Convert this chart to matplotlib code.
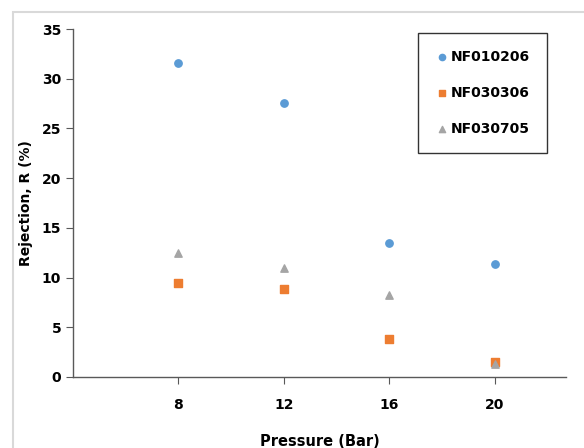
import matplotlib.pyplot as plt
from matplotlib.patches import Rectangle

pressure = [8, 12, 16, 20]
nf010206 = [31.6, 27.6, 13.5, 11.4]
nf030306 = [9.5, 8.9, 3.8, 1.5]
nf030705 = [12.5, 11.0, 8.2, 1.3]

plt.rcParams['font.family'] = ['DejaVu Sans']
plt.rcParams['font.weight'] = 'bold'

fig = plt.figure(figsize=(5.84, 4.48), dpi=100)
# grey chart-area frame (cut off at right and bottom)
fig.patches.append(Rectangle((13 / 584, -0.1), 1.2, 1 - 12 / 448 + 0.1,
                             transform=fig.transFigure, fill=False,
                             edgecolor='#d9d9d9', linewidth=1.5))

ax = fig.add_axes([73 / 584, 1 - 377 / 448, (566 - 73) / 584, (377 - 29) / 448])

ax.scatter(pressure, nf010206, marker='o', s=28, color='#5b9bd5', label='NF010206', zorder=3)
ax.scatter(pressure, nf030306, marker='s', s=28, color='#ed7d31', label='NF030306', zorder=3)
ax.scatter(pressure, nf030705, marker='^', s=28, color='#a5a5a5', label='NF030705', zorder=3)

ax.set_xlim(4, 22.7)
ax.set_ylim(0, 35)
ax.set_xticks(pressure)
ax.set_yticks(range(0, 36, 5))
for s in ['top', 'right']:
    ax.spines[s].set_visible(False)
for s in ['left', 'bottom']:
    ax.spines[s].set_color('#595959')
    ax.spines[s].set_linewidth(1)
ax.tick_params(axis='both', direction='out', length=5, color='#595959', labelsize=10)
ax.tick_params(axis='x', pad=10)

ax.set_xlabel('Pressure (Bar)', fontsize=10.5, fontweight='bold', labelpad=16)
ax.set_ylabel('Rejection, R (%)', fontsize=10, fontweight='bold', labelpad=6)

leg = ax.legend(loc='upper right', bbox_to_anchor=(547 / 584, 1 - 33 / 448),
                bbox_transform=fig.transFigure, frameon=True, fancybox=False,
                fontsize=10, handletextpad=0.1, handlelength=1.1,
                labelspacing=1.6, borderpad=1.2, markerscale=0.85, borderaxespad=0)
leg.get_frame().set_edgecolor('black')
leg.get_frame().set_linewidth(1)

fig.savefig('out.png', dpi=100)
